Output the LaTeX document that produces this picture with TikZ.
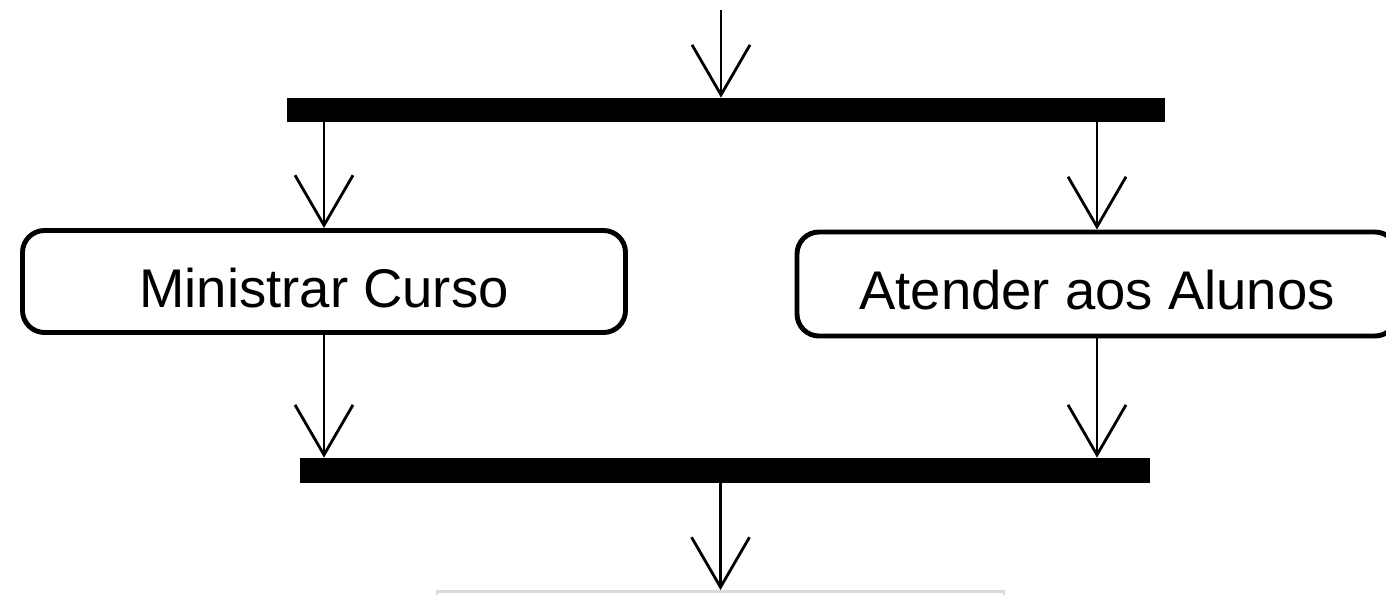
\documentclass[tikz,border=0pt]{standalone}
\usepackage{fontspec}
\setmainfont{Liberation Sans}
\usetikzlibrary{arrows.meta}

\tikzset{
  bar/.style = {fill = black, inner sep = 0pt},
  activity/.style = {draw, line width = 2.8pt, rounded corners = 0.44cm, inner sep = 0pt,
    text height = 1.1cm, text depth = 0.08cm, font = \fontsize{31}{36}\selectfont},
  flow/.style = {line width = 1.6pt, -{Straight Barb[length = 1.0cm, width = 1.16cm, line width = 1.6pt]}}
}

\begin{document}
\begin{tikzpicture} [scale = 1]
\clip (0.0, 0.0) rectangle (27.72, 11.88);
\coordinate (start) at (14.42, 11.68);
\node[bar, minimum width = 17.56cm, minimum height = 0.48cm] (fork) at (14.52, 9.68){};
\node[activity, minimum width = 12.06cm, minimum height = 2.04cm] (ministrar) at (6.48, 6.25){Ministrar Curso};
\node[activity, minimum width = 12.0cm, minimum height = 2.08cm] (atender) at (21.94, 6.2){Atender aos Alunos};
\node[bar, minimum width = 17.0cm, minimum height = 0.5cm] (join) at (14.5, 2.47){};
\node[draw = gray!30, line width = 1.6pt, minimum width = 11.34cm, minimum height = 2.0cm, anchor = north] (next) at (14.41, 0.08){};
\draw[flow] (start) -- (start |- fork.north);
\draw[flow] (fork.south -| ministrar.north) -- (ministrar.north);
\draw[flow] (fork.south -| atender.north) -- (atender.north);
\draw[flow] (ministrar.south) -- (join.north -| ministrar.south);
\draw[flow] (atender.south) -- (join.north -| atender.south);
\draw[flow] (join.south -| next.north) -- (next.north);
\end{tikzpicture}
\end{document}
